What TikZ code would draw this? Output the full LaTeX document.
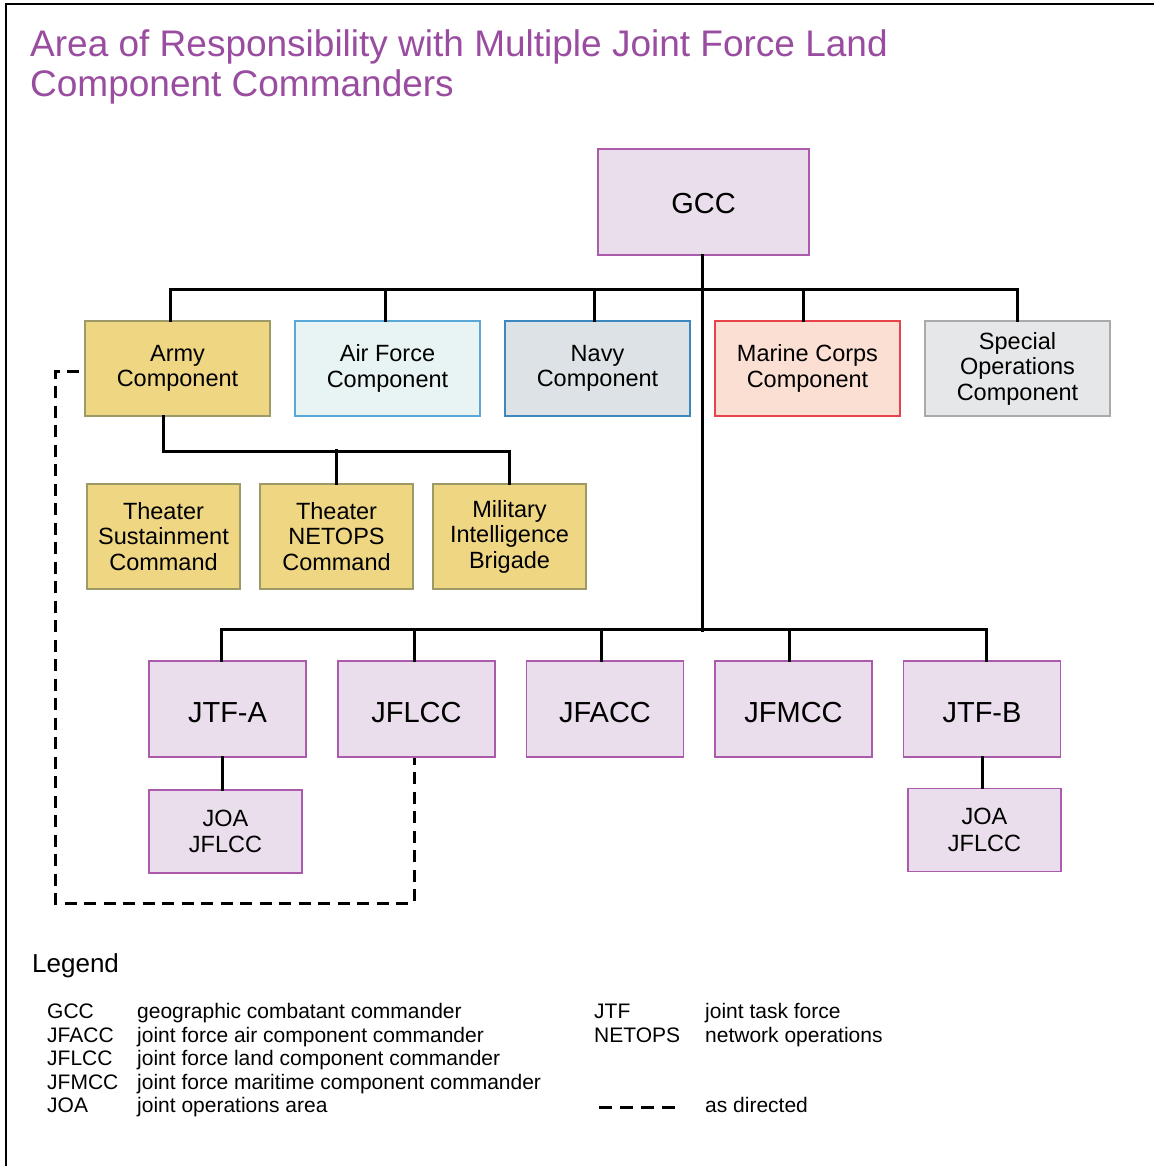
\documentclass[tikz,border=0pt]{standalone}
\usepackage{fontspec}
\setmainfont{Liberation Sans}
\usetikzlibrary{calc}
\definecolor{titlecol}{HTML}{9A4CA0}
\definecolor{jfill}{HTML}{EADEEC}
\definecolor{jdraw}{HTML}{AC5AAC}
\definecolor{armyfill}{HTML}{EED682}
\definecolor{armydraw}{HTML}{9E9A68}
\definecolor{affill}{HTML}{E7F4F3}
\definecolor{afdraw}{HTML}{5AA8D8}
\definecolor{navyfill}{HTML}{DCE2E5}
\definecolor{navydraw}{HTML}{3A88BE}
\definecolor{mcfill}{HTML}{FCDFD3}
\definecolor{mcdraw}{HTML}{E8434B}
\definecolor{sofill}{HTML}{E6E7E8}
\definecolor{sodraw}{HTML}{AAAAAA}
\tikzset{
  box/.style={rectangle, inner sep=0pt, align=center, line width=1.2pt, font=\fontsize{23.5}{25.5}\selectfont},
  jbox/.style={box, fill=jfill, draw=jdraw, minimum width=157, minimum height=96, text height=26pt, text depth=0pt, font=\fontsize{29}{32}\selectfont},
  joabox/.style={box, fill=jfill, draw=jdraw, minimum width=153, minimum height=83, font=\fontsize{23.5}{26.5}\selectfont},
  compbox/.style={box, minimum width=185, minimum height=95},
  subbox/.style={box, fill=armyfill, draw=armydraw, minimum width=153, minimum height=105},
  conn/.style={line width=3pt, line cap=rect},
  dconn/.style={line width=3pt, dash pattern=on 12pt off 7.5pt},
  legtxt/.style={anchor=base west, inner sep=0pt, font=\fontsize{21}{23.6}\selectfont},
  titletxt/.style={anchor=base west, inner sep=0pt, text=titlecol, font=\fontsize{37}{40}\selectfont}
}
\begin{document}
\begin{tikzpicture}[x=1pt,y=-1pt]
\useasboundingbox (0,0) rectangle (1154,1166);
\fill[white] (0,0) rectangle (1154,1166);
\draw[line width=2.8pt] (6,1166) -- (6,4) -- (1154,4);

% title
\node[titletxt] (t1) at (30,57) {Area of Responsibility with Multiple Joint Force Land};
\node[titletxt] (t2) at (30,97) {Component Commanders};

% nodes
\node[box, fill=jfill, draw=jdraw, minimum width=211, minimum height=106, text height=24pt, text depth=0pt, font=\fontsize{29}{32}\selectfont] (gcc) at (703.5,202) {GCC};

\node[compbox, fill=armyfill, draw=armydraw] (army) at (177.5,368.5) {Army\\Component};
\node[compbox, fill=affill, draw=afdraw] (af) at (387.5,368.5) {Air Force\\Component};
\node[compbox, fill=navyfill, draw=navydraw] (navy) at (597.5,368.5) {Navy\\Component};
\node[compbox, fill=mcfill, draw=mcdraw] (mc) at (807.5,368.5) {Marine Corps\\Component};
\node[compbox, fill=sofill, draw=sodraw] (so) at (1017.5,368.5) {Special\\Operations\\Component};

\node[subbox] (tsc) at (163.5,536.5) {Theater\\Sustainment\\Command};
\node[subbox] (tnc) at (336.5,536.5) {Theater\\NETOPS\\Command};
\node[subbox] (mib) at (509.5,536.5) {Military\\Intelligence\\Brigade};

\node[jbox] (jtfa) at (227.5,709) {JTF-A};
\node[jbox] (jflcc) at (416.5,709) {JFLCC};
\node[jbox] (jfacc) at (605,709) {JFACC};
\node[jbox] (jfmcc) at (793.5,709) {JFMCC};
\node[jbox] (jtfb) at (982,709) {JTF-B};

\node[joabox] (joaa) at (225.5,831.5) {JOA\\JFLCC};
\node[joabox] (joab) at (984.5,830) {JOA\\JFLCC};

% connectors
\draw[conn] ([xshift=-1.5]gcc.south) -- ([xshift=-1.5]gcc.south |- 0,630);
\draw[conn] ([xshift=-7.5]army.north) -- ++(0,-31) -| (so.north);
\draw[conn] ([xshift=-2.5]af.north) -- ++(0,-31);
\draw[conn] ([xshift=-3.5]navy.north) -- ++(0,-31);
\draw[conn] ([xshift=-4.5]mc.north) -- ++(0,-31);

\draw[conn] ([xshift=-14]army.south) -- ++(0,35) -| (mib.north);
\draw[conn] (tnc.north) -- ++(0,-33);

\draw[conn] ([xshift=-6]jtfa.north) -- ++(0,-31) -| ([xshift=4]jtfb.north);
\draw[conn] ([xshift=-2]jflcc.north) -- ++(0,-31);
\draw[conn] ([xshift=-4]jfacc.north) -- ++(0,-31);
\draw[conn] ([xshift=-4]jfmcc.north) -- ++(0,-31);

\draw[conn] ([xshift=-5]jtfa.south) -- ([xshift=-5]jtfa.south |- joaa.north);
\draw[conn] (jtfb.south) -- (jtfb.south |- joab.north);

\draw[dconn] ([xshift=-5,yshift=-2.5]army.west) -- ++(-24,0) -- ++(0,532) -| ([xshift=-2.5]jflcc.south);

% legend
\node[anchor=base west, inner sep=0pt, font=\fontsize{26}{28}\selectfont] (leg) at (32,972) {Legend};

\node[legtxt] (a1) at (47,1018.5) {GCC};
\node[legtxt] (a2) at (47,1042) {JFACC};
\node[legtxt] (a3) at (47,1065.5) {JFLCC};
\node[legtxt] (a4) at (47,1089) {JFMCC};
\node[legtxt] (a5) at (47,1112.5) {JOA};
\node[legtxt] (d1) at (137,1018.5) {geographic combatant commander};
\node[legtxt] (d2) at (137,1042) {joint force air component commander};
\node[legtxt] (d3) at (137,1065.5) {joint force land component commander};
\node[legtxt] (d4) at (137,1089) {joint force maritime component commander};
\node[legtxt] (d5) at (137,1112.5) {joint operations area};

\node[legtxt] (a6) at (594,1018.5) {JTF};
\node[legtxt] (a7) at (594,1042) {NETOPS};
\node[legtxt] (d6) at (705,1018.5) {joint task force};
\node[legtxt] (d7) at (705,1042) {network operations};
\node[legtxt] (d8) at (705,1112.5) {as directed};
\coordinate (dl1) at (599,1107);
\coordinate (dl2) at (678,1107);
\draw[line width=3pt, dash pattern=on 13pt off 8pt] (dl1) -- (dl2);
\end{tikzpicture}
\end{document}
